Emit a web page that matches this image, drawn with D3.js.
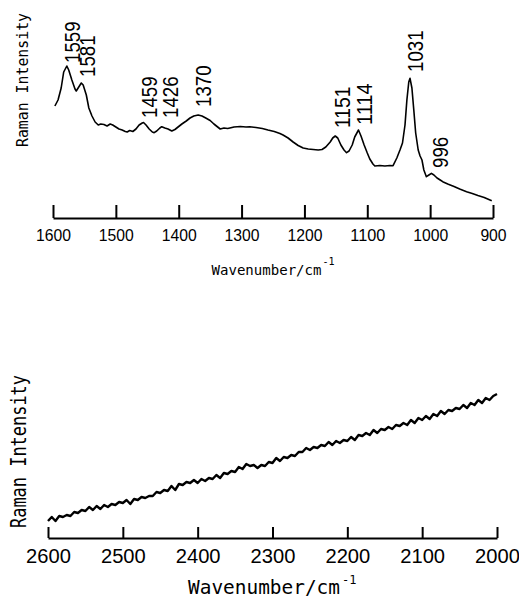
<!DOCTYPE html>
<html>
<head>
<meta charset="utf-8">
<script src="https://cdn.jsdelivr.net/npm/d3@7"></script>
<style>
  html, body { margin: 0; padding: 0; background: #fff; }
  svg { display: block; }
</style>
</head>
<body>
<script>
// ---------- DATA ----------
// Top spectrum (fingerprint region): wavenumber (cm^-1) and relative intensity
const topWn = [1597,1592,1587,1583,1578,1575,1570,1565,1563,1560,1555,1552,1547,1543,1538,1533,1528,1524,1519,1514,1509,1505,1500,1495,1490,1485,1482,1478,1473,1468,1463,1458,1456,1452,1447,1442,1439,1435,1430,1427,1422,1417,1414,1411,1406,1401,1395,1388,1382,1376,1369,1363,1357,1350,1344,1338,1334,1328,1322,1312,1302,1293,1287,1277,1267,1258,1248,1239,1234,1226,1218,1210,1202,1194,1186,1178,1172,1166,1159,1155,1151,1147,1142,1137,1133,1129,1124,1120,1114,1110,1105,1100,1096,1091,1088,1080,1072,1064,1059,1053,1048,1044,1040,1037,1034,1032,1029,1026,1023,1019,1016,1013,1010,1006,1002,998,994,989,984,980,972,962,953,942,933,924,914,902];
const topInt = [112,118,130,146,152,148,138,129,127,130,135,133,123,110,102,96,93,94,93.5,92,94,93,91,89,88,86.5,86,87.5,86.5,89,93,95,95.5,93,89,86,85.3,87,90,91.3,90,89,88,87,88.5,91,94,97,100,102,103,102,100,97.5,94,91,89,90,89.5,91,91.5,91,91.3,90.5,89.5,88,86.5,84.5,83,80,76,72.5,70,69,68.5,68,68.5,71,76,80,82,80,73,68,65.3,67,73,81,88,82,73,65,59,54,52,52.5,52,52.5,52.3,60,68,75,93,118,136,139.7,130,108,85,68,62,58,48,41.3,43,44.7,43,40,38,36.3,34,31.5,29,26.3,24.5,22.5,20.5,17.3];

// Bottom spectrum (2600-2000 cm^-1)
const botWn = [2600,2595,2590,2585,2580,2575,2570,2565,2560,2555,2550,2545,2540,2535,2530,2525,2520,2515,2510,2505,2500,2495,2490,2485,2480,2475,2470,2465,2460,2455,2450,2445,2440,2435,2430,2425,2420,2415,2410,2405,2400,2395,2390,2385,2380,2375,2370,2365,2360,2355,2350,2345,2340,2335,2330,2325,2320,2315,2310,2305,2300,2295,2290,2285,2280,2275,2270,2265,2260,2255,2250,2245,2240,2235,2230,2225,2220,2215,2210,2205,2200,2195,2190,2185,2180,2175,2170,2165,2160,2155,2150,2145,2140,2135,2130,2125,2120,2115,2110,2105,2100,2095,2090,2085,2080,2075,2070,2065,2060,2055,2050,2045,2040,2035,2030,2025,2020,2015,2010,2005,2000];
const botInt = [17,21,17,22,21,23,22,26,25,28,
  27,31,28,32,29,33,31,34,33,36,
  35,38,34,39,38,41,40,42,42,46,
  45,48,47,52,48,54,53,56,55,58,
  55,59,57,60,59,63,60,65,64,67,
  66,71,69,74,72,73,70,73,72,76,
  75,80,77,81,80,83,82,86,86,90,
  88,91,90,93,92,96,93,97,95,98,
  97,101,98,103,102,105,103,108,105,109,
  108,111,109,113,112,115,113,118,115,120,
  118,122,119,124,122,127,124,128,127,130,
  129,133,130,135,133,138,135,140,138,142,
  144];

// Tick values
const topTicks = [1600,1500,1400,1300,1200,1100,1000,900];
const botTicks = [2600,2500,2400,2300,2200,2100,2000];

// Peak annotations (text, anchor wavenumber, anchor intensity)
const peakText = ["1559","1581","1459","1426","1370","1151","1114","1031","996"];
const peakWn   = [1557,1533,1435,1401,1349,1128,1093,1011,971];
const peakInt  = [155,141,100,100,111,90,93,146,50];

const xLabel = "Wavenumber/cm";
const xLabelSup = "-1";
const yLabel = "Raman Intensity";

// ---------- DRAW ----------
const W = 519, H = 598;
const svg = d3.select("body").append("svg").attr("width", W).attr("height", H);

const xTop = d3.scaleLinear().domain([1600, 900]).range([53, 493]);
const yTop = d3.scaleLinear().domain([0, 200]).range([218, 18]);
const xBot = d3.scaleLinear().domain([2600, 2000]).range([48, 497]);
const yBot = d3.scaleLinear().domain([0, 150]).range([538, 388]);

const sans = "'Liberation Sans', Arial, sans-serif";
const mono = "'DejaVu Sans Mono', 'Liberation Mono', monospace";

function styleAxis(g, fontSize, baseline, perChar) {
  g.select(".domain").attr("stroke", "#000").attr("stroke-width", 2);
  g.selectAll(".tick line").attr("stroke", "#000").attr("stroke-width", 2);
  g.selectAll(".tick text")
    .attr("fill", "#000")
    .attr("font-family", sans)
    .attr("font-size", fontSize)
    .attr("y", baseline)
    .attr("dy", 0)
    .each(function(d) {
      if (perChar) {
        const s = String(d);
        d3.select(this).attr("textLength", perChar * s.length).attr("lengthAdjust", "spacingAndGlyphs");
      }
    });
}

// Top chart
const topLine = d3.line().x((d, i) => xTop(topWn[i])).y((d, i) => yTop(topInt[i]));
svg.append("path")
  .attr("d", topLine(topWn))
  .attr("fill", "none").attr("stroke", "#000").attr("stroke-width", 1.6)
  .attr("stroke-linejoin", "round");

const gTop = svg.append("g").attr("transform", "translate(0,218)")
  .call(d3.axisBottom(xTop).tickValues(topTicks).tickSize(-13).tickSizeOuter(0).tickFormat(d3.format("d")));
styleAxis(gTop, 17, 23, 8.75);

svg.selectAll("text.peak").data(peakText).enter().append("text")
  .attr("class", "peak")
  .attr("transform", (d, i) => `translate(${xTop(peakWn[i])},${yTop(peakInt[i])}) rotate(-90)`)
  .attr("font-family", sans).attr("font-size", 22).attr("fill", "#000")
  .attr("textLength", d => 10.4 * d.length).attr("lengthAdjust", "spacingAndGlyphs")
  .text(d => d);

const tx1 = svg.append("text").attr("x", 211.5).attr("y", 275)
  .attr("font-family", mono).attr("font-size", 14).attr("fill", "#000");
tx1.append("tspan").attr("textLength", 110).attr("lengthAdjust", "spacingAndGlyphs").text(xLabel);
tx1.append("tspan").attr("font-size", 10).attr("dy", -10).attr("dx", 1).text(xLabelSup);

svg.append("text").attr("transform", "translate(28,147) rotate(-90)")
  .attr("font-family", mono).attr("font-size", 16).attr("fill", "#000")
  .attr("textLength", 134).attr("lengthAdjust", "spacingAndGlyphs")
  .text(yLabel);

// Bottom chart
const botLine = d3.line().x((d, i) => xBot(botWn[i])).y((d, i) => yBot(botInt[i]));
svg.append("path")
  .attr("d", botLine(botWn))
  .attr("fill", "none").attr("stroke", "#000").attr("stroke-width", 2.4)
  .attr("stroke-linejoin", "round");

const gBot = svg.append("g").attr("transform", "translate(0,538)")
  .call(d3.axisBottom(xBot).tickValues(botTicks).tickSize(-11).tickSizeOuter(0).tickFormat(d3.format("d")));
styleAxis(gBot, 20, 25, 11.2);

const tx2 = svg.append("text").attr("x", 188).attr("y", 594)
  .attr("font-family", mono).attr("font-size", 19).attr("fill", "#000");
tx2.append("tspan").attr("textLength", 152).attr("lengthAdjust", "spacingAndGlyphs").text(xLabel);
tx2.append("tspan").attr("font-size", 12).attr("dy", -10).attr("dx", 2).text(xLabelSup);

svg.append("text").attr("transform", "translate(26,528) rotate(-90)")
  .attr("font-family", mono).attr("font-size", 21).attr("fill", "#000")
  .attr("textLength", 153).attr("lengthAdjust", "spacingAndGlyphs")
  .text(yLabel);
</script>
</body>
</html>
